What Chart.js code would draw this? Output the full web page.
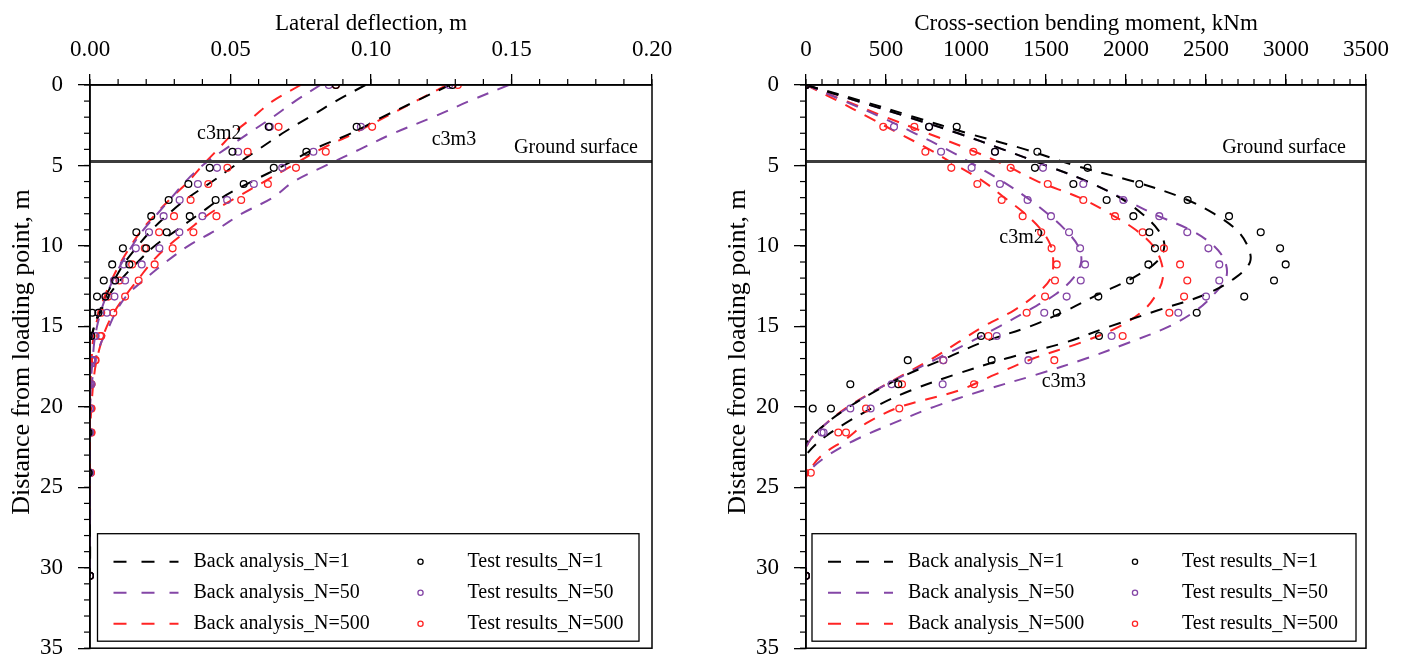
<!DOCTYPE html>
<html><head><meta charset="utf-8">
<script src="https://cdn.jsdelivr.net/npm/chart.js@4"></script>
<style>
html,body{margin:0;padding:0;background:#fff;}
#wrap{position:relative;width:1405px;height:656px;overflow:hidden;}
canvas{position:absolute;top:0;}
</style></head><body>
<div id="wrap">
<canvas id="c1" width="700" height="677" style="left:0"></canvas>
<canvas id="c2" width="705" height="677" style="left:700px"></canvas>
</div>
<script>
// ---------- DATA ----------
const depthTest = [0, 2.6, 4.15, 5.15, 6.15, 7.15, 8.15, 9.15, 10.15, 11.15, 12.15, 13.15, 14.15, 15.6, 17.1, 18.6, 20.1, 21.6, 24.1, 30.5];
const depthCurveL = [0,1,2,3,4,5,6,7,8,9,10,11,12,13,14,15,16,17,18,20,22,24,26,28,30.5];
const depthCurveR = [0,1,2,3,4,5,6,7,8,9,10,11,12,13,14,15,16,17,18,19,20,21,22,23,24,25,26,27,28,29,30.5];
const groundDepth = 4.75;

// Left panel: lateral deflection (m)
const defTestN1_c3m2   = [0.0875,0.0636,0.0507,0.0426,0.035,0.028,0.0218,0.0165,0.0117,0.0079,0.0049,0.0025,0.0008,-0.0005,-0.0015,-0.0019,-0.0014,-0.0008,-0.0005,0];
const defTestN50_c3m2  = [0.085,0.064,0.0527,0.0452,0.0384,0.0319,0.0262,0.021,0.0163,0.012,0.0085,0.0055,0.003,0.0018,0.0005,0,0,0,0,0];
const defTestN500_c3m2 = [0.0875,0.0671,0.0561,0.0489,0.0421,0.0358,0.0299,0.0246,0.0195,0.015,0.0105,0.0065,0.004,0.0036,0.0018,0.0005,0.0005,0.0005,0.0003,0];
const defTestN1_c3m3   = [0.129,0.0949,0.077,0.0654,0.0547,0.0447,0.0355,0.0273,0.02,0.014,0.009,0.0055,0.003,0.0005,-0.0015,-0.0015,-0.001,-0.0005,-0.0005,0];
const defTestN50_c3m3  = [0.1278,0.0964,0.0795,0.0684,0.0583,0.0488,0.04,0.0318,0.0247,0.0184,0.0125,0.0087,0.006,0.002,0.001,0.0005,0,0,0,0];
const defTestN500_c3m3 = [0.1309,0.1004,0.0839,0.0733,0.0633,0.0538,0.045,0.0368,0.0294,0.023,0.0173,0.0125,0.0083,0.004,0.002,0.0005,0.0005,0.0005,0.0003,0];

const defBackN1_c3m2   = [0.098,0.0875,0.078,0.0685,0.06,0.0515,0.0435,0.035,0.028,0.022,0.017,0.0125,0.009,0.006,0.0035,0.0015,0.0002,-0.0008,-0.0015,-0.002,-0.0018,-0.0012,-0.0006,-0.0002,0];
const defBackN50_c3m2  = [0.082,0.073,0.065,0.0565,0.048,0.04,0.034,0.029,0.024,0.019,0.015,0.0115,0.0085,0.006,0.004,0.0025,0.0015,0.001,0.0005,0,0,0,0,0,0];
const defBackN500_c3m2 = [0.075,0.065,0.058,0.051,0.0455,0.04,0.035,0.029,0.0235,0.0185,0.0145,0.011,0.008,0.0055,0.0035,0.002,0.001,0.0006,0.0003,0,0,0,0,0,0];
const defBackN1_c3m3   = [0.128,0.116,0.104,0.093,0.0795,0.069,0.0575,0.047,0.039,0.031,0.023,0.017,0.0115,0.007,0.004,0.0015,0,-0.001,-0.0015,-0.002,-0.0018,-0.001,-0.0005,0,0];
const defBackN50_c3m3  = [0.149,0.135,0.122,0.108,0.096,0.084,0.0725,0.065,0.054,0.045,0.035,0.027,0.02,0.0135,0.0095,0.0068,0.004,0.002,0.001,0,-0.0003,-0.0003,0,0,0];
const defBackN500_c3m3 = [0.127,0.116,0.105,0.094,0.082,0.072,0.062,0.052,0.0425,0.035,0.0278,0.022,0.0175,0.013,0.009,0.006,0.004,0.0025,0.0015,0.0005,0,0,0,0,0];

// Right panel: bending moment (kNm)
const momTestN1_c3m2   = [0,769,1181,1431,1671,1879,2046,2146,2181,2140,2025,1827,1567,1094,636,277,42,-69,-135,0];
const momTestN50_c3m2  = [0,550,844,1035,1212,1385,1531,1644,1713,1744,1717,1629,1489,1192,858,535,277,98,-40,0];
const momTestN500_c3m2 = [0,483,746,908,1071,1223,1354,1470,1535,1567,1556,1494,1379,1140,858,600,375,202,-5,0];
const momTestN1_c3m3   = [0,942,1446,1760,2083,2385,2644,2842,2963,2998,2925,2739,2442,1831,1160,577,156,-60,-90,0];
const momTestN50_c3m3  = [0,770,1181,1481,1733,1983,2208,2383,2515,2583,2583,2500,2327,1910,1390,854,404,110,-25,0];
const momTestN500_c3m3 = [0,677,1046,1279,1511,1733,1931,2104,2237,2338,2383,2363,2271,1979,1552,1050,583,250,30,0];

const momBackN1_c3m2   = [0,320,640,950,1230,1500,1760,1960,2100,2200,2240,2190,2040,1830,1630,1400,1100,870,630,440,270,130,20,-50,-80,-85,-70,-45,-25,-10,0];
const momBackN50_c3m2  = [0,240,470,680,880,1060,1230,1380,1510,1620,1700,1720,1670,1560,1390,1210,1020,820,620,430,270,130,30,-20,-40,-45,-40,-30,-15,-5,0];
const momBackN500_c3m2 = [0,200,390,580,770,940,1110,1240,1370,1470,1530,1545,1530,1440,1300,1110,950,790,610,430,260,130,30,-15,-25,-25,-20,-15,-10,-5,0];
const momBackN1_c3m3   = [0,350,680,1010,1370,1680,2050,2350,2550,2690,2760,2775,2680,2500,2200,1900,1620,1250,930,650,430,250,100,0,-60,-85,-80,-55,-30,-10,0];
const momBackN50_c3m3  = [0,320,640,950,1230,1500,1760,1970,2170,2400,2550,2620,2625,2550,2440,2270,2020,1750,1440,1100,800,550,320,140,20,-30,-40,-30,-15,-5,0];
const momBackN500_c3m3 = [0,250,500,760,1020,1250,1450,1710,1900,2060,2170,2220,2230,2190,2110,1960,1720,1420,1180,950,590,380,250,100,20,-20,-25,-20,-10,-5,0];

const lineLabels  = ['Back analysis_N=1','Back analysis_N=50','Back analysis_N=500'];
const pointLabels = ['Test results_N=1','Test results_N=50','Test results_N=500'];
const xTicksLeft  = [0, 0.05, 0.10, 0.15, 0.20];
const xTicksRight = [0, 500, 1000, 1500, 2000, 2500, 3000, 3500];
const yTicks      = [0, 5, 10, 15, 20, 25, 30, 35];
const yTitle = 'Distance from loading point, m';

// ---------- STYLE ----------
const COL = ['#000000', '#8446a6', '#ff2424'];
const FONT = '"Liberation Serif", "Times New Roman", serif';
Chart.defaults.font.family = FONT;
Chart.defaults.color = '#000';

function pts(xs, ys) {
  const out = [];
  xs.forEach((v, i) => { if (v !== null) out.push({x: v, y: ys[i]}); });
  return out;
}

function buildDatasets(tests, lines, dCurve) {
  const ds = [];
  tests.forEach((grp, k) => grp.forEach(vals => ds.push({
    label: pointLabels[k], data: pts(vals, depthTest), showLine: false,
    pointRadius: 3.4, pointHoverRadius: 3.4, pointStyle: 'circle',
    borderColor: COL[k], backgroundColor: 'rgba(255,255,255,0)', pointBorderWidth: 1.3, borderWidth: 1.3
  })));
  lines.forEach((grp, k) => grp.forEach(vals => ds.push({
    label: lineLabels[k], data: pts(vals, dCurve), showLine: true,
    pointRadius: 0, borderColor: COL[k], borderWidth: 2, borderDash: [12, 10],
    tension: 0.35, fill: false
  })));
  return ds;
}

function deco(o) {
  return {
    id: 'deco' + o.id,
    afterDatasetsDraw(chart) {
      const ctx = chart.ctx, a = chart.chartArea, x = chart.scales.x, y = chart.scales.y;
      ctx.save();
      // ground surface line
      const gy = y.getPixelForValue(groundDepth);
      ctx.strokeStyle = '#3c3c3c'; ctx.lineWidth = 3; ctx.setLineDash([]);
      ctx.beginPath(); ctx.moveTo(a.left, gy); ctx.lineTo(a.right, gy); ctx.stroke();
      // frame
      ctx.strokeStyle = '#000'; ctx.lineWidth = 1.5;
      ctx.strokeRect(a.left, a.top, a.right - a.left, a.bottom - a.top);
      // minor ticks
      ctx.lineWidth = 1.2;
      for (let i = 0; i <= o.xMinorCount; i++) {
        const px = x.getPixelForValue(o.xMax * i / o.xMinorCount);
        ctx.beginPath(); ctx.moveTo(px, a.top); ctx.lineTo(px, a.top - 6); ctx.stroke();
      }
      for (let i = 0; i <= 35; i++) {
        const py = y.getPixelForValue(i);
        ctx.beginPath(); ctx.moveTo(a.left, py); ctx.lineTo(a.left - 6, py); ctx.stroke();
      }
      // y axis title
      ctx.save();
      ctx.translate(o.yTitleX, 352);
      ctx.rotate(-Math.PI / 2);
      ctx.font = '26px ' + FONT; ctx.fillStyle = '#000';
      ctx.textAlign = 'center'; ctx.textBaseline = 'middle';
      ctx.fillText(yTitle, 0, 0);
      ctx.restore();
      // annotations
      ctx.font = '20px ' + FONT; ctx.fillStyle = '#000'; ctx.textBaseline = 'alphabetic';
      o.notes.forEach(n => {
        ctx.textAlign = n.align;
        ctx.fillText(n.text, x.getPixelForValue(n.x), y.getPixelForValue(n.y));
      });
      // legend
      const L = a.left + o.legL, R = a.right - o.legR, T = a.bottom - 114.5, B = a.bottom - 7;
      ctx.fillStyle = '#fff'; ctx.fillRect(L, T, R - L, B - T);
      ctx.strokeStyle = '#000'; ctx.lineWidth = 1.3; ctx.strokeRect(L, T, R - L, B - T);
      ctx.font = '20px ' + FONT; ctx.textAlign = 'left'; ctx.textBaseline = 'middle';
      const rows = [T + 28, T + 59, T + 90];
      rows.forEach((ry, k) => {
        ctx.strokeStyle = COL[k]; ctx.lineWidth = 2; ctx.setLineDash([13, 15]);
        ctx.beginPath(); ctx.moveTo(L + 16, ry); ctx.lineTo(L + 81, ry); ctx.stroke();
        ctx.setLineDash([]);
        ctx.fillStyle = '#000'; ctx.fillText(lineLabels[k], L + 96, ry);
        ctx.lineWidth = 1.3;
        ctx.beginPath(); ctx.arc(L + 323, ry, 2.6, 0, Math.PI * 2); ctx.stroke();
        ctx.fillText(pointLabels[k], L + 370, ry);
      });
      ctx.restore();
    }
  };
}

function makeChart(id, o) {
  return new Chart(document.getElementById(id), {
    type: 'scatter',
    data: { datasets: buildDatasets(o.tests, o.lines, o.dCurve) },
    options: {
      responsive: false, animation: false,
      layout: { padding: { left: 0, top: 0, right: o.padR, bottom: 8 } },
      plugins: { legend: { display: false }, tooltip: { enabled: false } },
      scales: {
        x: {
          type: 'linear', position: 'top', min: 0, max: o.xMax,
          afterBuildTicks: s => { s.ticks = o.xTicks.map(v => ({value: v})); },
          afterFit: s => { s.height = 85; },
          ticks: { font: { size: 23 }, padding: 10, color: '#000', callback: o.fmt, maxRotation: 0 },
          grid: { drawOnChartArea: false, drawTicks: true, tickLength: 11, color: '#000', lineWidth: 1.3 },
          border: { display: true, color: '#000', width: 1.5 },
          title: { display: true, text: o.xTitle, font: { size: 23 }, color: '#000', padding: { top: 10, bottom: 0 } }
        },
        y: {
          type: 'linear', position: 'left', min: 0, max: 35, reverse: true,
          afterBuildTicks: s => { s.ticks = yTicks.map(v => ({value: v})); },
          afterFit: s => { s.width = o.yW; },
          ticks: { font: { size: 23 }, padding: 15, color: '#000', callback: v => String(v) },
          grid: { drawOnChartArea: false, drawTicks: true, tickLength: 12, color: '#000', lineWidth: 1.3 },
          border: { display: true, color: '#000', width: 1.5 },
          title: { display: false }
        }
      }
    },
    plugins: [deco(o)]
  });
}

makeChart('c1', {
  id: 1, xMax: 0.2, xTicks: xTicksLeft, xMinorCount: 20, fmt: v => Number(v).toFixed(2),
  xTitle: 'Lateral deflection, m', yW: 90, padR: 48, yTitleX: 22, legL: 7.5, legR: 13,
  dCurve: depthCurveL,
  tests: [[defTestN1_c3m2, defTestN1_c3m3], [defTestN50_c3m2, defTestN50_c3m3], [defTestN500_c3m2, defTestN500_c3m3]],
  lines: [[defBackN1_c3m2, defBackN1_c3m3], [defBackN50_c3m2, defBackN50_c3m3], [defBackN500_c3m2, defBackN500_c3m3]],
  notes: [
    {text: 'c3m2', x: 0.0381, y: 3.36, align: 'left'},
    {text: 'c3m3', x: 0.1216, y: 3.73, align: 'left'},
    {text: 'Ground surface', x: 0.195, y: 4.2, align: 'right'}
  ]
});

makeChart('c2', {
  id: 2, xMax: 3500, xTicks: xTicksRight, xMinorCount: 35, fmt: v => String(v),
  xTitle: 'Cross-section bending moment, kNm', yW: 106, padR: 39, yTitleX: 38, legL: 6, legR: 10,
  dCurve: depthCurveR,
  tests: [[momTestN1_c3m2, momTestN1_c3m3], [momTestN50_c3m2, momTestN50_c3m3], [momTestN500_c3m2, momTestN500_c3m3]],
  lines: [[momBackN1_c3m2, momBackN1_c3m3], [momBackN50_c3m2, momBackN50_c3m3], [momBackN500_c3m2, momBackN500_c3m3]],
  notes: [
    {text: 'c3m2', x: 1208, y: 9.84, align: 'left'},
    {text: 'c3m3', x: 1473, y: 18.76, align: 'left'},
    {text: 'Ground surface', x: 3375, y: 4.25, align: 'right'}
  ]
});
</script>
</body></html>
